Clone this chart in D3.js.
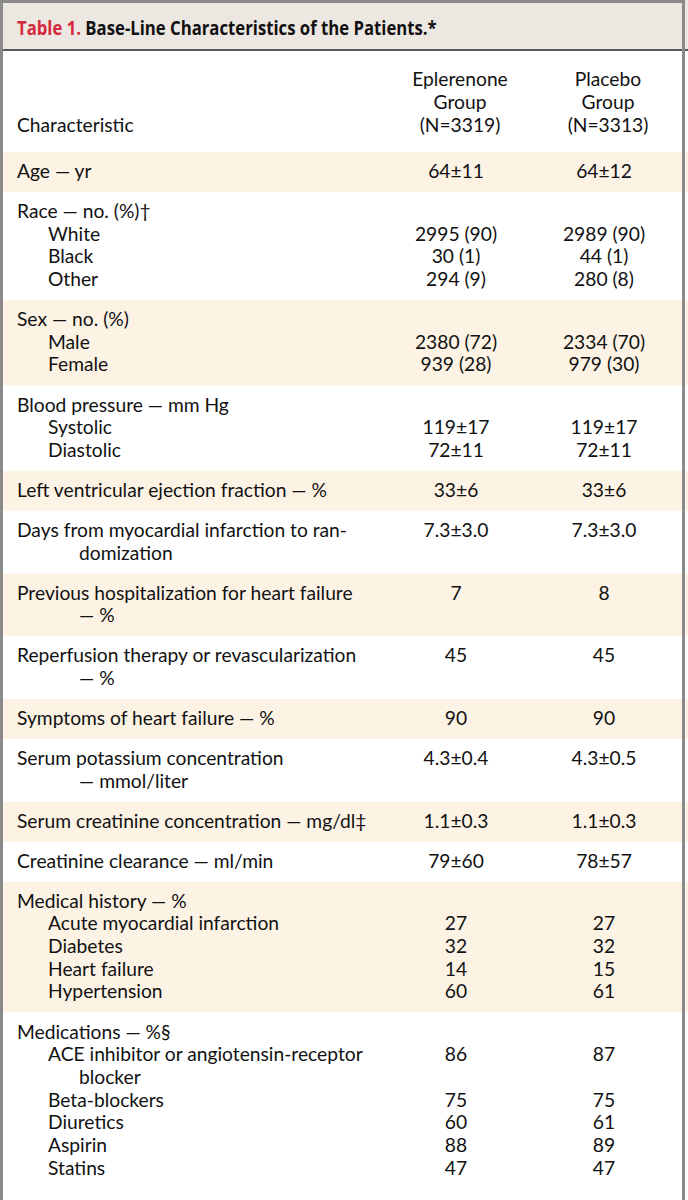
<!DOCTYPE html>
<html>
<head>
<meta charset="utf-8">
<script src="https://cdn.jsdelivr.net/npm/d3@7"></script>
<style>
  body { margin: 0; background: #fff; }
  svg text { fill: #111; }
</style>
</head>
<body>
<div id="chart"></div>
<script>
// table content, one entry per row; each label line is [text, indent level]
var rowLabels = [
  [["Age — yr", 0]],
  [["Race — no. (%)†", 0], ["White", 1], ["Black", 1], ["Other", 1]],
  [["Sex — no. (%)", 0], ["Male", 1], ["Female", 1]],
  [["Blood pressure — mm Hg", 0], ["Systolic", 1], ["Diastolic", 1]],
  [["Left ventricular ejection fraction — %", 0]],
  [["Days from myocardial infarction to ran-", 0], ["domization", 2]],
  [["Previous hospitalization for heart failure", 0], ["— %", 2]],
  [["Reperfusion therapy or revascularization", 0], ["— %", 2]],
  [["Symptoms of heart failure — %", 0]],
  [["Serum potassium concentration", 0], ["— mmol/liter", 2]],
  [["Serum creatinine concentration — mg/dl‡", 0]],
  [["Creatinine clearance — ml/min", 0]],
  [["Medical history — %", 0], ["Acute myocardial infarction", 1], ["Diabetes", 1], ["Heart failure", 1], ["Hypertension", 1]],
  [["Medications — %§", 0], ["ACE inhibitor or angiotensin-receptor", 1], ["blocker", 2], ["Beta-blockers", 1], ["Diuretics", 1], ["Aspirin", 1], ["Statins", 1]]
];

// values per label line ("" = no value on that line)
var eplerenoneValues = [
  ["64±11"],
  ["", "2995 (90)", "30 (1)", "294 (9)"],
  ["", "2380 (72)", "939 (28)"],
  ["", "119±17", "72±11"],
  ["33±6"],
  ["7.3±3.0", ""],
  ["7", ""],
  ["45", ""],
  ["90"],
  ["4.3±0.4", ""],
  ["1.1±0.3"],
  ["79±60"],
  ["", "27", "32", "14", "60"],
  ["", "86", "", "75", "60", "88", "47"]
];

var placeboValues = [
  ["64±12"],
  ["", "2989 (90)", "44 (1)", "280 (8)"],
  ["", "2334 (70)", "979 (30)"],
  ["", "119±17", "72±11"],
  ["33±6"],
  ["7.3±3.0", ""],
  ["8", ""],
  ["45", ""],
  ["90"],
  ["4.3±0.5", ""],
  ["1.1±0.3"],
  ["78±57"],
  ["", "27", "32", "15", "61"],
  ["", "87", "", "75", "61", "89", "47"]
];

var groups = ["Eplerenone", "Placebo"];
var groupHeaders = [["Eplerenone", "Group", "(N=3319)"], ["Placebo", "Group", "(N=3313)"]];
var firstColumnHeader = "Characteristic";
var titleLabel = "Table 1.";
var titleText = " Base-Line Characteristics of the Patients.*";

var width = 688, height = 1200
 ,  headerBottom = 152
 ,  rowPad = 20
 ,  lineH = 22.7
 ,  fontFamily = "Lato, 'Open Sans', sans-serif";

var svg = d3.select("#chart").append("svg")
  .attr("width", width)
  .attr("height", height);

// calibrate body font size on one known line width
var probe = svg.append("text")
  .attr("font-family", fontFamily)
  .attr("font-size", 100)
  .text("Days from myocardial infarction to ran-");
var bodySize = 100 * 330 / probe.node().getComputedTextLength();
probe.remove();

var x = d3.scaleBand().domain(groups).range([384, 680]);
var xCenter = function(g) { return x(g) + x.bandwidth() / 2; };
var indent = d3.scaleOrdinal().domain([0, 1, 2]).range([17, 48, 79]);

// row tops from line counts
var rows = rowLabels.map(function(lines, i) {
  return { i: i, lines: lines, h: 2 * rowPad + lineH * (lines.length - 1) };
});
var acc = headerBottom;
rows.forEach(function(r) { r.y = acc; acc += r.h; });
rows[rows.length - 1].h = height - rows[rows.length - 1].y;

// backgrounds
svg.append("rect")
  .attr("x", 0).attr("y", 0).attr("width", width).attr("height", height)
  .attr("fill", "#fff");

svg.append("rect")
  .attr("x", 0).attr("y", 0).attr("width", width).attr("height", 50)
  .attr("fill", "#ede7e1");

svg.selectAll(".band").data(rows.filter(function(r) { return r.i % 2 === 0; }))
  .enter().append("rect")
    .attr("class", "band")
    .attr("x", 0)
    .attr("y", function(d) { return d.y; })
    .attr("width", width)
    .attr("height", function(d) { return d.h; })
    .attr("fill", "#fdf3e5");

svg.append("line")
  .attr("x1", 0).attr("x2", width)
  .attr("y1", 50).attr("y2", 50)
  .attr("stroke", "#5a5a5a")
  .attr("stroke-width", 2);

// title, squeezed to the condensed width of the original
var title = svg.append("text")
  .attr("font-family", "'Open Sans', sans-serif")
  .attr("font-weight", 700)
  .attr("font-size", 19.5);
title.append("tspan").style("fill", "#d32a3b").text(titleLabel);
title.append("tspan").text(titleText);
var tw = title.node().getComputedTextLength();
title.attr("transform", "translate(17,35) scale(" + (420 / tw) + ",1)");

// column headers
svg.append("text")
  .attr("font-family", fontFamily)
  .attr("font-size", bodySize)
  .attr("x", 17)
  .attr("y", headerBottom - 26 + 6)
  .text(firstColumnHeader);

groups.forEach(function(g, gi) {
  svg.selectAll(".hdr" + gi).data(groupHeaders[gi])
    .enter().append("text")
      .attr("font-family", fontFamily)
      .attr("font-size", bodySize)
      .attr("text-anchor", "middle")
      .attr("x", xCenter(g) + 2)
      .attr("y", function(d, k) { return headerBottom - 26 + 6 - 23 * (2 - k); })
      .text(function(d) { return d; });
});

// body
var row = svg.selectAll(".row").data(rows)
  .enter().append("g")
    .attr("class", "row")
    .attr("transform", function(d) { return "translate(0," + (d.y + rowPad + 6) + ")"; });

row.selectAll(".label").data(function(d) { return d.lines; })
  .enter().append("text")
    .attr("class", "label")
    .attr("font-family", fontFamily)
    .attr("font-size", bodySize)
    .attr("x", function(d) { return indent(d[1]); })
    .attr("y", function(d, k) { return k * lineH; })
    .text(function(d) { return d[0]; });

[eplerenoneValues, placeboValues].forEach(function(vals, gi) {
  row.selectAll(".val" + gi).data(function(d) { return vals[d.i]; })
    .enter().append("text")
      .attr("class", "val" + gi)
      .attr("font-family", fontFamily)
      .attr("font-size", bodySize)
      .attr("text-anchor", "middle")
      .attr("x", xCenter(groups[gi]) - 2)
      .attr("y", function(d, k) { return k * lineH; })
      .text(function(d) { return d; });
});

// outer frame
svg.append("path")
  .attr("d", "M1.5," + height + "V1.5H683.5V" + height)
  .attr("fill", "none")
  .attr("stroke", "#8a8a8a")
  .attr("stroke-width", 3);
</script>
</body>
</html>
